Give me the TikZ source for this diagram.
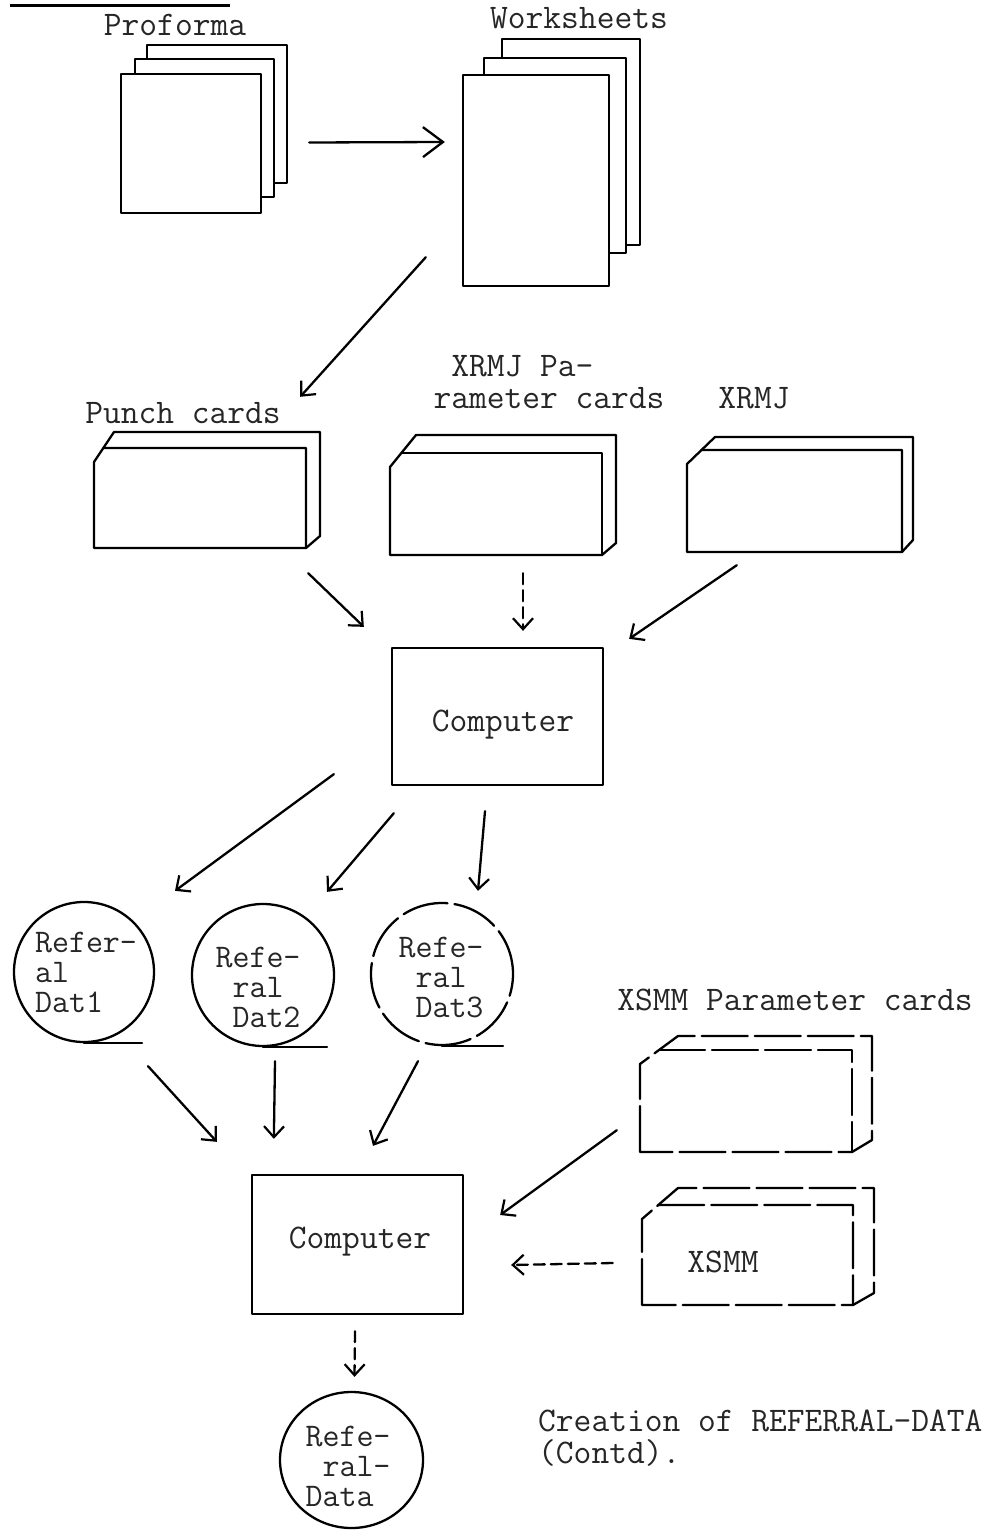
\documentclass[tikz,border=0pt]{standalone}
\usepackage{fontspec}
\usetikzlibrary{arrows.meta,calc,fit,shapes.geometric}

\tikzset{
  ln/.style={line width=2.3pt, line cap=round, line join=round},
  cardline/.style={ln, fill=white},
  brokenline/.style={dash pattern=on 46pt off 7pt},
  sheet/.style={draw, ln, fill=white, inner sep=0pt},
  box/.style={draw, ln, fill=white, inner sep=0pt},
  tape/.style={draw, ln, circle, inner sep=0pt},
  txt/.style={inner sep=0pt, text=black!85, font=\ttfamily\fontsize{34.5}{32}\selectfont},
  ctxt/.style={inner sep=0pt, text=black!85, align=left, font=\ttfamily\fontsize{33}{30}\selectfont},
  arr/.style={ln, -{Straight Barb[length=11pt,width=20pt,line width=2.2pt]}},
  bigarr/.style={ln, -{Straight Barb[length=20pt,width=30pt,line width=2.3pt]}},
  darr/.style={arr, dash pattern=on 11pt off 6pt},
}

% name, L, T, R, B, dx, dy, chamfer-x, extra style
\newcommand\cardstack[9]{%
  \node[fit={(#2,#3) (#4,#5)}, inner sep=0pt] (#1) {};
  \draw[cardline,#9] (#2,#5) -- (#2,#3+14) -- (#2+#8,#3-#7) -- (#4+#6,#3-#7)
        -- (#4+#6,#5-12) -- (#4,#5) -- cycle;
  \draw[ln,#9] ($(#2,#3+14)!{14/(14+#7)}!(#2+#8,#3-#7)$) -- (#4,#3) -- (#4,#5);
}

\begin{document}
\begin{tikzpicture}[x=1pt, y=-1pt]
\useasboundingbox (0,0) rectangle (1002,1530);
\fill[white] (0,0) rectangle (1002,1530);

% stray heading underline
\draw[line width=3pt] (10,6) -- (230,6);

% ---- Proforma stack
\node[txt] (proL) at (175,25) {Proforma};
\node[sheet, fit={(147,45) (287,183)}] (pro3) {};
\node[sheet, fit={(135,59) (274,197)}] (pro2) {};
\node[sheet, fit={(121,74) (261,213)}] (pro) {};

% ---- Worksheets stack
\node[txt] (wsL) at (579,18) {Worksheets};
\node[sheet, fit={(502,39) (640,245)}] (ws3) {};
\node[sheet, fit={(484,58) (626,253)}] (ws2) {};
\node[sheet, fit={(463,75) (609,286)}] (ws) {};

% ---- Card stacks
\node[txt] (punchL) at (183,413) {Punch cards};
\cardstack{punch}{94}{448}{306}{548}{14}{16}{20}{}
\node[txt, align=left] (xparL) at (549,382) {\ XRMJ Pa-\\rameter cards};
\cardstack{xpar}{390}{453}{602}{555}{14}{18}{26}{}
\node[txt] (xrmjL) at (754,398) {XRMJ};
\cardstack{xrmj}{687}{450}{902}{552}{11}{13}{28}{}

% ---- Computer 1
\node[box, minimum width=211pt, minimum height=137pt] (comp1) at (497.5,716.5) {};
\node[txt] (comp1t) at (503,725) {Computer};

% ---- Referral tapes
\node[tape, minimum size=140pt] (d1) at (84,972) {};
\draw[ln] (d1.south) -- ++(58,0);
\node[ctxt] (d1t) at (86,972) {Refer-\\al\\Dat1};
\node[tape, minimum size=142pt] (d2) at (263,975) {};
\draw[ln] (d2.south) -- ++(64,0);
\node[ctxt] (d2t) at (258,987) {Refe-\\\ ral\\\ Dat2};
\node[tape, minimum size=142pt, brokenline] (d3) at (442,974) {};
\draw[ln] (d3.south) -- ++(61,0);
\node[ctxt] (d3t) at (441,978) {Refe-\\\ ral\\\ Dat3};

% ---- XSMM cards
\node[txt] (xsparL) at (795,1000) {XSMM Parameter cards};
\cardstack{xspar}{640}{1050}{852}{1152}{20}{14}{38}{brokenline}
\cardstack{xsmm}{642}{1205}{853}{1305}{21}{17}{36}{brokenline}
\node[txt] (xsmmt) at (723,1262) {XSMM};

% ---- Computer 2
\node[box, minimum width=211pt, minimum height=139pt] (comp2) at (357.5,1244.5) {};
\node[txt] (comp2t) at (360,1242) {Computer};

% ---- Final referral data
\node[draw, ln, ellipse, minimum width=143pt, minimum height=136pt, inner sep=0pt] (rd) at (351.5,1460) {};
\node[ctxt] (rdt) at (348,1466) {Refe-\\\ ral-\\Data};

% ---- Caption
\node[txt, align=left, anchor=west] (cap) at (538,1438) {Creation of REFERRAL-DATA\\(Contd).};

% ---- Connectors
\draw[bigarr] ($(pro.east)+(47,-1)$) -- ($(ws.west)+(-17,-38.5)$);
\draw[arr] ($(ws.south west)+(-36,-30)$) -- ($(punch.north east)+(-6,-51)$);
\draw[arr] ($(punch.south east)+(2,25)$) -- ($(comp1.north west)+(-27,-20)$);
\draw[darr] ($(xpar.south)+(27,18)$) -- ($(comp1.north)+(25.5,-16)$);
\draw[arr] ($(xrmj.south west)+(50,13)$) -- ($(comp1.north east)+(25,-8)$);
\draw[arr] ($(comp1.south west)+(-57,-12)$) -- ($(d1.north)+(91,-10)$);
\draw[arr] ($(comp1.south west)+(3,27)$) -- ($(d2.north)+(64,-11)$);
\draw[arr] ($(comp1.south)+(-12.5,25)$) -- ($(d3.north)+(36,-11)$);
\draw[arr] ($(d1.south)+(64,23)$) -- ($(comp2.north west)+(-34,-32)$);
\draw[arr] ($(d2.south)+(12,14)$) -- ($(comp2.north west)+(23,-35)$);
\draw[arr] ($(d3.south)+(-24,15)$) -- ($(comp2.north)+(15.5,-28)$);
\draw[arr] ($(xspar.south west)+(-23,-22)$) -- ($(comp2.east)+(36,-29.5)$);
\draw[darr] ($(xsmm.west)+(-29,8)$) -- ($(comp2.east)+(47,20.5)$);
\draw[darr] ($(comp2.south)+(-2.5,16)$) -- ($(rd.north)+(3,-14)$);
\end{tikzpicture}
\end{document}
